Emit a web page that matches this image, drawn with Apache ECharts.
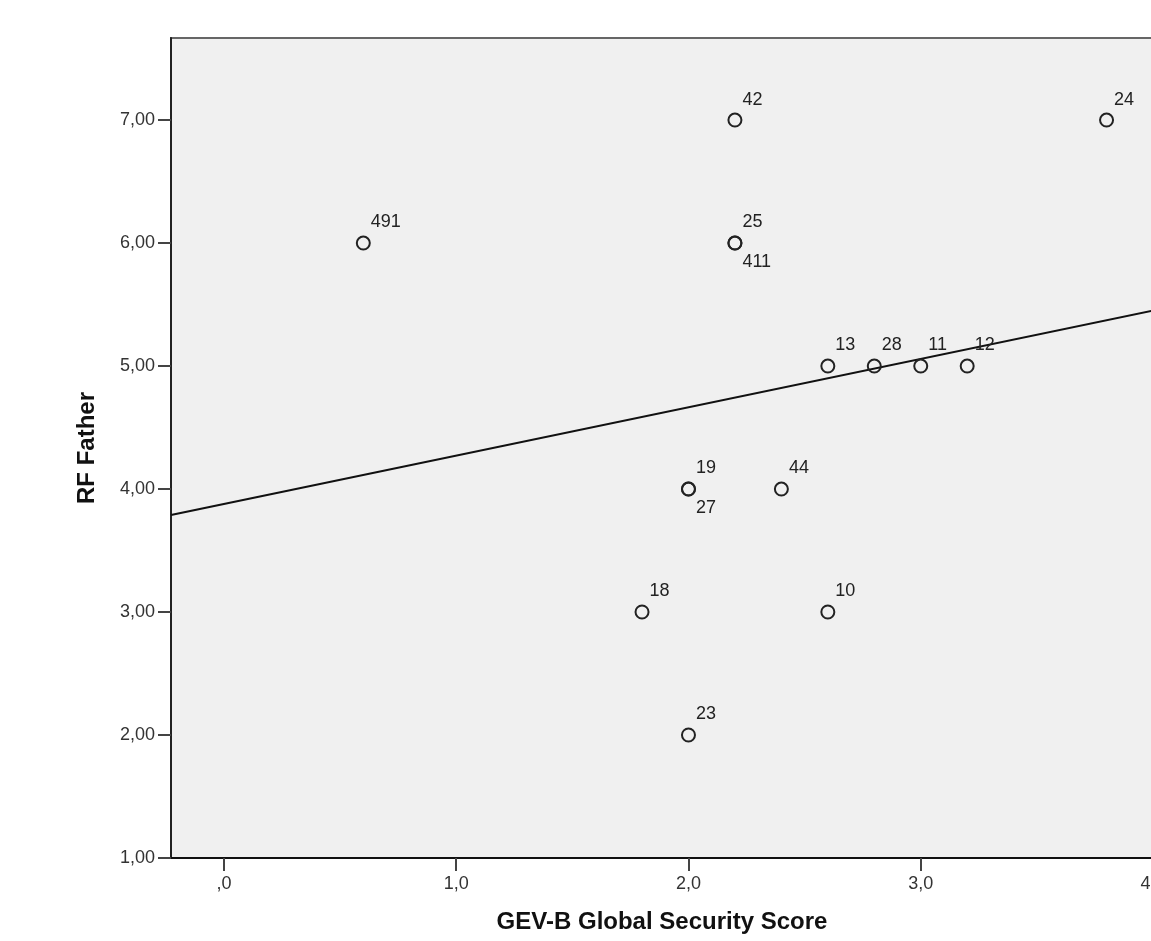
<!DOCTYPE html>
<html><head><meta charset="utf-8">
<script src="https://cdn.jsdelivr.net/npm/echarts@6/dist/echarts.min.js"></script>
<style>html,body{margin:0;padding:0;background:#fff}#c{width:1151px;height:941px}</style>
</head><body><div id="c"></div>
<script>
// Case ids, values and label placement (above/below)
var caseIds = ['491','42','25','411','24','13','28','11','12','19','27','44','18','10','23'];
var xValues = [0.6, 2.2, 2.2, 2.2, 3.8, 2.6, 2.8, 3.0, 3.2, 2.0, 2.0, 2.4, 1.8, 2.6, 2.0];
var yValues = [6, 7, 6, 6, 7, 5, 5, 5, 5, 4, 4, 4, 3, 3, 2];
var labelBelow = [false,false,false,true,false,false,false,false,false,false,true,false,false,false,false];
var xTicks = [0, 1, 2, 3, 4];
var yTicks = [1, 2, 3, 4, 5, 6, 7];
var fitIntercept = 3.879;
var fitSlope = 0.393;
var xMin = -0.228, xMax = 4.0, yMin = 1, yMax = 7.667;

var pts = caseIds.map(function(id, i){
  return {
    name: id,
    value: [xValues[i], yValues[i]],
    label: { offset: labelBelow[i] ? [0, 19] : [0, -20.5] }
  };
});
var fitLine = [[xMin, fitIntercept + fitSlope * xMin], [xMax, fitIntercept + fitSlope * xMax]];

function fmtX(v){ var s = v.toFixed(1).replace('.', ','); return s.charAt(0)==='0' ? s.slice(1) : s; }
function fmtY(v){ return v.toFixed(2).replace('.', ','); }

var chart = echarts.init(document.getElementById('c'));
chart.setOption({
  animation: false,
  textStyle: { fontFamily: 'Liberation Sans, Arial, sans-serif' },
  grid: { left: 171, top: 38, right: -2, bottom: 83, outerBoundsMode: 'none', containLabel: false,
          show: true, backgroundColor: '#f0f0f0', borderColor: '#666', borderWidth: 2 },
  xAxis: {
    type: 'value', min: xMin, max: xMax,
    name: 'GEV-B Global Security Score', nameLocation: 'middle', nameGap: 52,
    nameTextStyle: { fontSize: 24, fontWeight: 'bold', color: '#111' },
    axisLine: { show: true, onZero: false, lineStyle: { color: '#111', width: 2 } },
    axisTick: { show: true, length: 13, lineStyle: { color: '#444', width: 2 }, customValues: xTicks },
    axisLabel: { fontSize: 18, color: '#333', margin: 17, customValues: xTicks, formatter: fmtX, hideOverlap: false },
    splitLine: { show: false }
  },
  yAxis: {
    type: 'value', min: yMin, max: yMax,
    name: 'RF Father', nameLocation: 'middle', nameGap: 72, nameRotate: 90,
    nameTextStyle: { fontSize: 24, fontWeight: 'bold', color: '#111' },
    axisLine: { show: true, onZero: false, lineStyle: { color: '#222', width: 2 } },
    axisTick: { show: true, length: 13, lineStyle: { color: '#444', width: 2 }, customValues: yTicks },
    axisLabel: { fontSize: 18, color: '#333', margin: 16, customValues: yTicks, formatter: fmtY },
    splitLine: { show: false }
  },
  series: [
    {
      type: 'line', data: fitLine, symbol: 'none', silent: true, z: 1,
      lineStyle: { color: '#111', width: 2 }
    },
    {
      type: 'scatter', data: pts, symbol: 'circle', symbolSize: 13, z: 3,
      itemStyle: { color: 'rgba(0,0,0,0)', borderColor: '#222', borderWidth: 2, opacity: 1 },
      label: { show: true, position: 'right', distance: 0, formatter: '{b}', fontSize: 18, color: '#222' }
    }
  ]
});
</script></body></html>
